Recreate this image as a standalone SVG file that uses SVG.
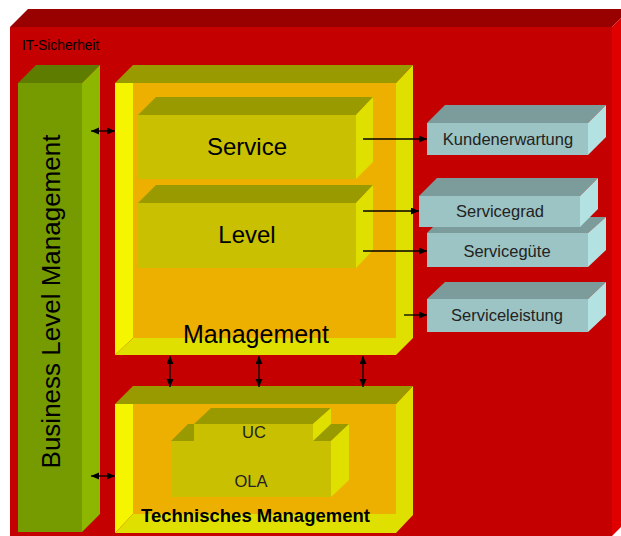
<svg xmlns="http://www.w3.org/2000/svg" width="621" height="536" viewBox="0 0 621 536">
  <style>
    .lbl { font-family: "Liberation Sans", Arial, sans-serif; fill: #000; }
    .big { font-size: 24px; text-anchor: middle; }
    .small { font-size: 16.5px; text-anchor: middle; fill: #222; }
    .conn { stroke: #000; stroke-width: 1.3; fill: none; }
    /* red frame */
    .r-front { fill: #C40000; } .r-top { fill: #990000; } .r-side { fill: #E00000; }
    /* green column */
    .g-front { fill: #759B00; } .g-top { fill: #5E7D00; } .g-side { fill: #8DB600; }
    /* yellow trays */
    .y-top { fill: #999900; } .y-left { fill: #F5F500; } .y-wall { fill: #E0E000; } .y-in { fill: #EEB000; }
    /* olive blocks */
    .o-front { fill: #C8C000; } .o-top { fill: #999900; } .o-side { fill: #E0E000; }
    /* cyan blocks */
    .c-front { fill: #9CC4C4; } .c-top { fill: #7C9C9C; } .c-side { fill: #B4E2E2; }
  </style>
  <defs>
    <marker id="head" markerUnits="userSpaceOnUse" markerWidth="9" markerHeight="8" refX="8" refY="3.5" orient="auto-start-reverse">
      <path d="M0,0 L8,3.5 L0,7 z" fill="#000"/>
    </marker>
  </defs>

  <rect width="621" height="536" fill="#fff"/>

  <g id="it-sicherheit">
    <polygon class="r-top" points="10,27 28,9 630,9 612,27"/>
    <polygon class="r-side" points="612,27 630,9 630,518 612,536"/>
    <rect class="r-front" x="10" y="27" width="602" height="509"/>
    <text class="lbl" x="22" y="50" font-size="13.8">IT-Sicherheit</text>
  </g>

  <g id="business-level-management">
    <polygon class="g-top" points="18,83 36,65 100,65 82,83"/>
    <polygon class="g-side" points="82,83 100,65 100,514 82,532"/>
    <rect class="g-front" x="18" y="83" width="64" height="449"/>
    <text class="lbl" font-size="26" text-anchor="middle" transform="translate(60,301.5) rotate(-90)">Business Level Management</text>
  </g>

  <g id="management">
    <polygon class="y-top" points="115,83 133,65 413,65 396,83"/>
    <polygon class="y-wall" points="396,83 413,65 413,338 396,355"/>
    <rect class="y-in" x="133" y="83" width="263" height="255"/>
    <polygon class="y-left" points="115,83 133,83 133,338 115,355"/>
    <polygon class="y-wall" points="115,355 133,338 396,338 396,355"/>
    <text class="lbl" x="256" y="343" font-size="25" text-anchor="middle">Management</text>
  </g>

  <g id="service">
    <polygon class="o-top" points="138,115 156,97 373,97 356,115"/>
    <polygon class="o-side" points="356,115 373,97 373,162 356,179"/>
    <rect class="o-front" x="138" y="115" width="218" height="64"/>
    <text class="lbl big" x="247" y="155">Service</text>
  </g>

  <g id="level">
    <polygon class="o-top" points="138,203 156,185 373,185 356,203"/>
    <polygon class="o-side" points="356,203 373,185 373,250 356,268"/>
    <rect class="o-front" x="138" y="203" width="218" height="65"/>
    <text class="lbl big" x="247" y="243">Level</text>
  </g>

  <g id="technisches-management">
    <polygon class="y-top" points="115,404 133,386 413,386 396,404"/>
    <polygon class="y-wall" points="396,404 413,386 413,515 396,533"/>
    <rect class="y-in" x="133" y="404" width="263" height="110"/>
    <polygon class="y-left" points="115,404 133,404 133,514 115,533"/>
    <polygon class="y-wall" points="115,533 133,514 396,514 396,533"/>
    <text class="lbl" x="141" y="522" font-size="18.5" font-weight="bold">Technisches Management</text>
  </g>

  <g id="ola">
    <polygon class="o-top" points="171,441 188,424 349,424 331,441"/>
    <polygon class="o-side" points="331,441 349,424 349,480 331,497"/>
    <rect class="o-front" x="171" y="441" width="160" height="56"/>
    <text class="lbl small" x="251" y="487">OLA</text>
  </g>

  <g id="uc">
    <polygon class="o-top" points="194,424 211,408 331,408 313,424"/>
    <polygon class="o-side" points="313,424 331,408 331,424 313,441"/>
    <rect class="o-front" x="194" y="424" width="119" height="17"/>
    <text class="lbl small" x="254" y="438">UC</text>
  </g>

  <g id="kundenerwartung">
    <polygon class="c-top" points="427,123 445,105 606,105 588,123"/>
    <polygon class="c-side" points="588,123 606,105 606,137 588,155"/>
    <rect class="c-front" x="427" y="123" width="161" height="32"/>
    <text class="lbl small" x="508" y="145">Kundenerwartung</text>
  </g>

  <g id="serviceguete">
    <polygon class="c-top" points="427,233 443,217 606,217 588,233"/>
    <polygon class="c-side" points="588,233 606,217 606,250 588,267"/>
    <rect class="c-front" x="427" y="233" width="161" height="34"/>
    <text class="lbl small" x="507" y="257">Servicegüte</text>
  </g>

  <g id="servicegrad">
    <polygon class="c-top" points="419,196 437,178 598,178 580,196"/>
    <polygon class="c-side" points="580,196 598,178 598,209 580,227"/>
    <rect class="c-front" x="419" y="196" width="161" height="31"/>
    <text class="lbl small" x="500" y="217">Servicegrad</text>
  </g>

  <g id="serviceleistung">
    <polygon class="c-top" points="427,299 445,282 606,282 588,299"/>
    <polygon class="c-side" points="588,299 606,282 606,315 588,332"/>
    <rect class="c-front" x="427" y="299" width="161" height="33"/>
    <text class="lbl small" x="507" y="321">Serviceleistung</text>
  </g>

  <g id="connectors">
    <line class="conn" x1="363" y1="139" x2="427" y2="139" marker-end="url(#head)"/>
    <line class="conn" x1="363" y1="211" x2="419" y2="211" marker-end="url(#head)"/>
    <line class="conn" x1="363" y1="251" x2="427" y2="251" marker-end="url(#head)"/>
    <line class="conn" x1="404" y1="315" x2="427" y2="315" marker-end="url(#head)"/>
    <line class="conn" x1="91" y1="131" x2="115" y2="131" marker-start="url(#head)" marker-end="url(#head)"/>
    <line class="conn" x1="91" y1="476" x2="115" y2="476" marker-start="url(#head)" marker-end="url(#head)"/>
    <line class="conn" x1="170" y1="356" x2="170" y2="387" marker-start="url(#head)" marker-end="url(#head)"/>
    <line class="conn" x1="259" y1="356" x2="259" y2="387" marker-start="url(#head)" marker-end="url(#head)"/>
    <line class="conn" x1="363" y1="356" x2="363" y2="387" marker-start="url(#head)" marker-end="url(#head)"/>
  </g>
</svg>
